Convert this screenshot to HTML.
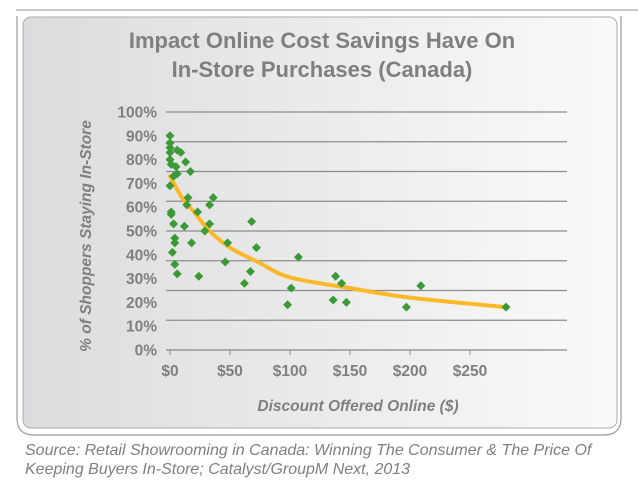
<!DOCTYPE html>
<html><head><meta charset="utf-8"><style>
body{margin:0;width:638px;height:482px;background:#fff;overflow:hidden;font-family:"Liberation Sans",sans-serif}
</style></head><body>
<svg width="638" height="482" viewBox="0 0 638 482">
<defs>
<linearGradient id="bg" x1="0" x2="1" y1="0" y2="0"><stop offset="0" stop-color="#dcdcde"/><stop offset="1" stop-color="#fafafa"/></linearGradient>
</defs>
<line x1="16" y1="10" x2="638" y2="10" stroke="#c8c8c8" stroke-width="2"/>
<path d="M17 16 L17 418 Q17 435 34 435 L604 435 Q621 435 621 418 L621 16" fill="none" stroke="#999" stroke-width="1.2"/>
<rect x="23" y="17" width="594" height="411" rx="8" fill="url(#bg)" stroke="#aaa" stroke-width="1"/>
<text x="322" y="48" text-anchor="middle" font-size="22" font-weight="bold" fill="#7f7f7f">Impact Online Cost Savings Have On</text>
<text x="322" y="77" text-anchor="middle" font-size="22" font-weight="bold" fill="#7f7f7f">In-Store Purchases (Canada)</text>
<g id="grid"></g>
<g id="yticks"></g>
<g id="xticks"></g>
<path id="trend" fill="none" stroke="#fbb829" stroke-width="4" stroke-linecap="round"/>
<g id="pts"></g>
<text transform="translate(91,236) rotate(-90)" text-anchor="middle" font-size="15.5" font-weight="bold" font-style="italic" fill="#7f7f7f">% of Shoppers Staying In-Store</text>
<text x="358" y="411" text-anchor="middle" font-size="15.5" font-weight="bold" font-style="italic" fill="#7f7f7f">Discount Offered Online ($)</text>
<text x="25" y="455" font-size="16" font-style="italic" fill="#7f7f7f">Source: Retail Showrooming in Canada: Winning The Consumer &amp; The Price Of</text>
<text x="25" y="474" font-size="16" font-style="italic" fill="#7f7f7f">Keeping Buyers In-Store; Catalyst/GroupM Next, 2013</text>
</svg>
<script>
const yTickLabels=["0%","10%","20%","30%","40%","50%","60%","70%","80%","90%","100%"];
const yTickValues=[0,10,20,30,40,50,60,70,80,90,100];
const xTickLabels=["$0","$50","$100","$150","$200","$250"];
const xTickValues=[0,50,100,150,200,250];
const discount=[0,0,0,0,6,9,0,13,1,5,6,3,17,0,15,14,36,33,23,1,1,3,12,33,29,68,4,4,18,48,2,72,46,4,6,24,67,62,107,101,138,143,98,136,147,197,209,280];
const staying=[90,87,85,83,84,83,80,79,78,77,74,73,75,69,64,61,64,61,58,58,57,53,52,53,50,54,47,45,45,45,41,43,37,36,32,31,33,28,39,26,31,28,19,21,20,18,27,18];
const trendX=[0,10,20,33,50,75,100,150,200,280];
const trendY=[73,64,58,50,43,36.5,30.5,26,22,18];
const NS="http://www.w3.org/2000/svg";
const X0=170,PX=1.2,Y0=350,PY=2.38;
const sx=v=>X0+v*PX, sy=v=>Y0-v*PY;
function mk(t,a,p){const e=document.createElementNS(NS,t);for(const k in a)e.setAttribute(k,a[k]);p.appendChild(e);return e;}
const grid=document.getElementById('grid');
for(let i=0;i<=8;i++){const y=112+i*(238/8);
const l=mk('line',{x1:166,x2:567,y1:y,y2:y,stroke:i==8?'#888':'#8c8c8c','stroke-width':1.2},grid);

}
const yt=document.getElementById('yticks');
yTickValues.forEach((v,i)=>{const t=mk('text',{x:157,y:sy(v)+5.5,'text-anchor':'end','font-size':15.5,'font-weight':'bold',fill:'#7f7f7f'},yt);t.textContent=yTickLabels[i];

});
const xt=document.getElementById('xticks');
xTickValues.forEach((v,i)=>{const tk=mk('line',{x1:sx(v),x2:sx(v),y1:350,y2:355,stroke:'#888'},xt);


const t=mk('text',{x:sx(v),y:376,'text-anchor':'middle','font-size':15.5,'font-weight':'bold',fill:'#7f7f7f'},xt);t.textContent=xTickLabels[i];

});
const P=trendX.map((v,i)=>[sx(v),sy(trendY[i])]);
let d='M'+P[0][0]+' '+P[0][1];
for(let i=0;i<P.length-1;i++){const p0=P[Math.max(0,i-1)],p1=P[i],p2=P[i+1],p3=P[Math.min(P.length-1,i+2)];
d+=` C${p1[0]+(p2[0]-p0[0])/6} ${p1[1]+(p2[1]-p0[1])/6} ${p2[0]-(p3[0]-p1[0])/6} ${p2[1]-(p3[1]-p1[1])/6} ${p2[0]} ${p2[1]}`;}
document.getElementById('trend').setAttribute('d',d);
const pts=document.getElementById('pts');
discount.forEach((v,i)=>{const x=sx(v),y=sy(staying[i]),r=4.5;
const p=mk('polygon',{points:`${x},${y-r} ${x+r},${y} ${x},${y+r} ${x-r},${y}`,fill:'#3a9a35'},pts);

});
</script>
</body></html>
